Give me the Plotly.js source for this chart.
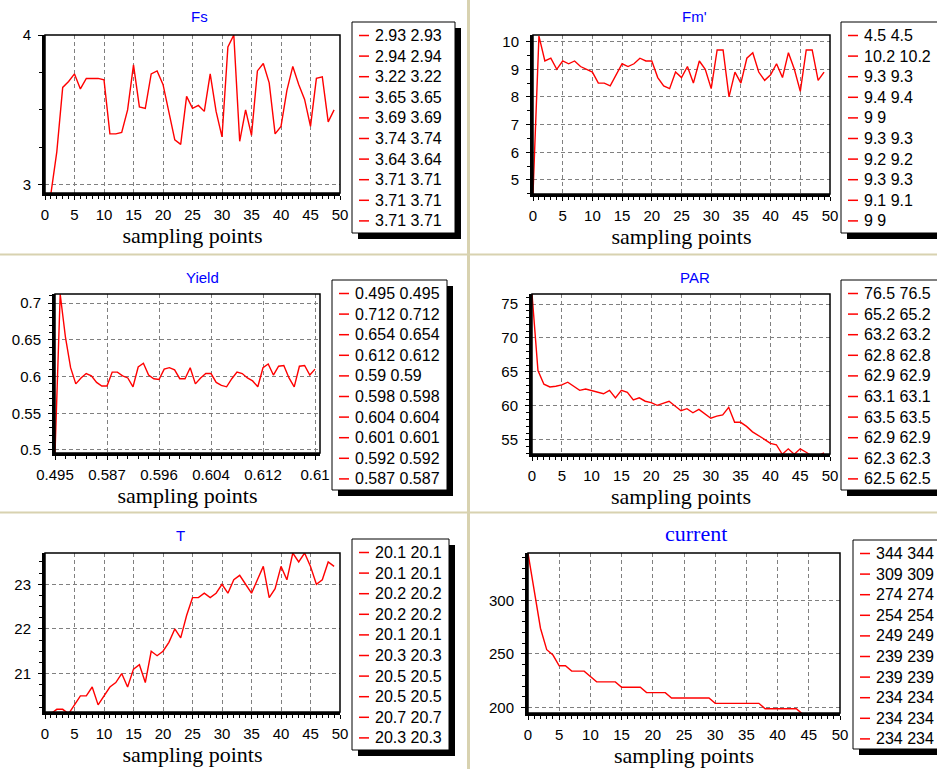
<!DOCTYPE html>
<html>
<head>
<meta charset="utf-8">
<script src="https://cdn.plot.ly/plotly-3.0.1.min.js"></script>
<style>
html,body{margin:0;padding:0;background:#ffffff;}
#chart{width:937px;height:769px;}
</style>
</head>
<body>
<div id="chart"></div>
<script>
// ---------------- data ----------------
const fsValues = [2.93,2.94,3.22,3.65,3.69,3.74,3.64,3.71,3.71,3.71,
                  3.70,3.34,3.34,3.35,3.50,3.80,3.52,3.51,3.74,3.76,
                  3.67,3.48,3.30,3.27,3.59,3.51,3.53,3.49,3.74,3.49,
                  3.32,3.92,4.00,3.29,3.50,3.33,3.76,3.81,3.68,3.34,
                  3.39,3.63,3.79,3.67,3.57,3.39,3.71,3.72,3.42,3.50];
const fmValues = [4.5,10.2,9.3,9.4,9,9.3,9.2,9.3,9.1,9,
                  8.9,8.5,8.5,8.4,8.8,9.2,9.1,9.2,9.4,9.3,
                  9.3,8.7,8.4,8.3,8.9,8.7,9.1,8.5,9.3,9.0,
                  8.3,9.7,9.7,8.0,8.9,8.5,9.4,9.6,8.9,8.6,
                  8.8,9.2,8.7,9.6,9.0,8.2,9.7,9.7,8.6,8.9];
const yieldValues = [0.495,0.712,0.654,0.612,0.59,0.598,0.604,0.601,0.592,0.587,
                     0.587,0.606,0.606,0.601,0.598,0.586,0.613,0.618,0.602,0.597,
                     0.596,0.610,0.612,0.609,0.597,0.597,0.612,0.590,0.598,0.604,
                     0.604,0.592,0.588,0.586,0.597,0.606,0.604,0.598,0.594,0.586,
                     0.612,0.617,0.602,0.614,0.615,0.598,0.586,0.614,0.615,0.602,
                     0.61];
const yieldTickText = ['0.495','0.587','0.596','0.604','0.612','0.61'];
const yieldTickVals = [0,10,20,30,40,50];
const parValues = [76.5,65.2,63.2,62.8,62.9,63.1,63.5,62.9,62.3,62.5,
                   62.3,62.0,61.8,62.3,61.2,62.3,62.0,60.9,61.2,60.7,
                   60.5,60.1,60.4,60.7,60.0,59.3,59.6,59.0,59.5,58.8,
                   58.2,58.5,58.7,59.8,57.6,57.6,57.0,56.2,55.7,55.1,
                   54.5,54.3,52.9,53.7,52.9,53.7,53.2,52.6,52.7,53.1];
const tValues = [20.1,20.1,20.2,20.2,20.1,20.3,20.5,20.5,20.7,20.3,
                 20.5,20.7,20.8,21.0,20.7,21.1,21.2,20.8,21.5,21.4,
                 21.5,21.7,22.0,21.8,22.3,22.7,22.7,22.8,22.7,22.8,
                 23.0,22.8,23.1,23.2,23.0,22.8,23.1,23.4,22.7,22.9,
                 23.4,23.1,23.7,23.5,23.7,23.4,23.0,23.1,23.5,23.4];
const currentValues = [344,309,274,254,249,239,239,234,234,234,
                       229,224,224,224,224,219,219,219,219,214,
                       214,214,214,209,209,209,209,209,209,209,
                       204,204,204,204,204,204,204,204,199,199,
                       199,199,199,199,194,194,194,194,194,194];
const panelTitles = ['Fs', "Fm'", 'Yield', 'PAR', 'T', 'current'];
const xAxisTitle = 'sampling points';

// ---------------- layout constants ----------------
const W = 937, H = 769;
const px = v => v / W;
const py = v => 1 - v / H;
const SANS = 'Liberation Sans, Arial, sans-serif';
const SERIF = 'Liberation Serif, Times New Roman, serif';
const GRID = '#808080';

const panels = [
  {vals: fsValues, L:45, R:340, T:35, B:193, yr:[2.945,4.0], dt:1, mdt:0.25, xr:[0,50],
   tx:199, ty:17, tfont:{family:SANS,size:15}, box:[352,22,103,211]},
  {vals: fmValues, L:533, R:830, T:35, B:194, yr:[4.49,10.24], dt:1, mdt:0.5, xr:[0,50],
   tx:694, ty:17, tfont:{family:SANS,size:15}, box:[841,22,112,211]},
  {vals: yieldValues, L:55, R:320, T:294, B:453, yr:[0.4959,0.7123], dt:0.05, mdt:0.01, xr:[0,50.96],
   tickvals:yieldTickVals, ticktext:yieldTickText,
   tx:202, ty:277, tfont:{family:SANS,size:15}, box:[332,280,115,210]},
  {vals: parValues, L:532, R:830, T:294, B:454, yr:[52.94,76.47], dt:5, mdt:1, xr:[0,50],
   tx:695, ty:277, tfont:{family:SANS,size:15}, box:[841,280,112,210]},
  {vals: tValues, L:45, R:340, T:553, B:712, yr:[20.14,23.70], dt:1, mdt:0.25, xr:[0,50],
   tx:180, ty:535, tfont:{family:SANS,size:15}, box:[352,539,97,211]},
  {vals: currentValues, L:528, R:840, T:553, B:713, yr:[195,344.1], dt:50, mdt:10, xr:[0,50],
   tx:696, ty:533, tfont:{family:SERIF,size:22}, box:[853,540,112,209]}
];

const traces = [];
const layout = {
  width: W, height: H,
  margin: {l:0, r:0, t:0, b:0, autoexpand:false},
  paper_bgcolor: '#ffffff', plot_bgcolor: '#ffffff',
  showlegend: false,
  shapes: [], annotations: []
};

// beige panel dividers
const BEIGE = '#d8d2b0';
layout.shapes.push({type:'line', xref:'paper', yref:'paper', x0:0, x1:1, y0:py(254.5), y1:py(254.5), line:{color:BEIGE,width:2}, layer:'below'});
layout.shapes.push({type:'line', xref:'paper', yref:'paper', x0:0, x1:1, y0:py(512.5), y1:py(512.5), line:{color:BEIGE,width:2}, layer:'below'});
layout.shapes.push({type:'line', xref:'paper', yref:'paper', x0:px(468.5), x1:px(468.5), y0:0, y1:1, line:{color:BEIGE,width:3}, layer:'below'});

panels.forEach((p, i) => {
  const n = i === 0 ? '' : String(i + 1);
  const xa = 'xaxis' + n, ya = 'yaxis' + n, xr = 'x' + n, yr = 'y' + n;

  traces.push({
    type:'scatter', mode:'lines', y:p.vals, x0:0, dx:1,
    xaxis:xr, yaxis:yr, name:panelTitles[i],
    line:{color:'#ff0000', width:1.4}, hoverinfo:'skip', showlegend:false
  });

  const xaxis = {
    domain:[px(p.L), px(p.R)], range:p.xr, anchor:yr,
    showline:true, linecolor:'#000', linewidth:3,
    ticks:'outside', ticklen:4, tickwidth:1, tickcolor:'#000',
    ticklabelstandoff:2,
    showgrid:true, gridcolor:GRID, gridwidth:1, griddash:'4px,3px',
    zeroline:false, fixedrange:true,
    tickfont:{family:SANS, size:15, color:'#000'},
    minor:{ticks:'outside', ticklen:3, tickcolor:'#000', tickmode:'linear', tick0:0, dtick:(p.tickvals ? 2 : 1), showgrid:false},
    title:{text:xAxisTitle, font:{family:SERIF, size:22, color:'#000'}, standoff:3}
  };
  if (p.tickvals) {
    xaxis.tickmode = 'array'; xaxis.tickvals = p.tickvals; xaxis.ticktext = p.ticktext;
  } else {
    xaxis.tickmode = 'linear'; xaxis.tick0 = 0; xaxis.dtick = 5;
  }
  layout[xa] = xaxis;

  layout[ya] = {
    domain:[py(p.B), py(p.T)], range:p.yr, anchor:xr,
    tickmode:'linear', tick0:0, dtick:p.dt,
    showline:true, linecolor:'#000', linewidth:3,
    ticks:'outside', ticklen:4, tickwidth:1, tickcolor:'#000',
    ticklabelstandoff:4,
    showgrid:true, gridcolor:GRID, gridwidth:1, griddash:'4px,3px',
    zeroline:false, fixedrange:true,
    tickfont:{family:SANS, size:15, color:'#000'},
    minor:{ticks:'outside', ticklen:3, tickcolor:'#000', tickmode:'linear', tick0:0, dtick:p.mdt, showgrid:false}
  };

  // thin frame on top / right
  layout.shapes.push({type:'rect', xref:xr+' domain', yref:yr+' domain', x0:0, x1:1, y0:0, y1:1,
    line:{color:'#000', width:1.5}, layer:'above'});

  // panel title
  layout.annotations.push({text:panelTitles[i], xref:'paper', yref:'paper', x:px(p.tx), y:py(p.ty),
    xanchor:'center', yanchor:'middle', showarrow:false,
    font:Object.assign({color:'#0000ff'}, p.tfont)});

  // legend box with drop shadow: first ten values of the series
  const [bx, by, bw, bh] = p.box;
  const SH = 6;
  layout.shapes.push({type:'rect', xref:'paper', yref:'paper', x0:px(bx+SH), x1:px(bx+bw+SH), y0:py(by+bh+SH), y1:py(by+SH),
    fillcolor:'#000', line:{width:0}, layer:'above'});
  layout.shapes.push({type:'rect', xref:'paper', yref:'paper', x0:px(bx), x1:px(bx+bw), y0:py(by+bh), y1:py(by),
    fillcolor:'#fff', line:{color:'#000', width:1}, layer:'above'});
  p.vals.slice(0, 10).forEach((v, k) => {
    const cy = by + 13.5 + k * 20.6;
    layout.shapes.push({type:'line', xref:'paper', yref:'paper', x0:px(bx+7), x1:px(bx+17), y0:py(cy), y1:py(cy),
      line:{color:'#ff0000', width:1.5}, layer:'above'});
    layout.annotations.push({text:v + ' ' + v, xref:'paper', yref:'paper', x:px(bx+21), y:py(cy),
      xanchor:'left', yanchor:'middle', showarrow:false,
      font:{family:SANS, size:16, color:'#000'}});
  });
});

Plotly.newPlot('chart', traces, layout, {staticPlot:true, displayModeBar:false});
</script>
</body>
</html>
